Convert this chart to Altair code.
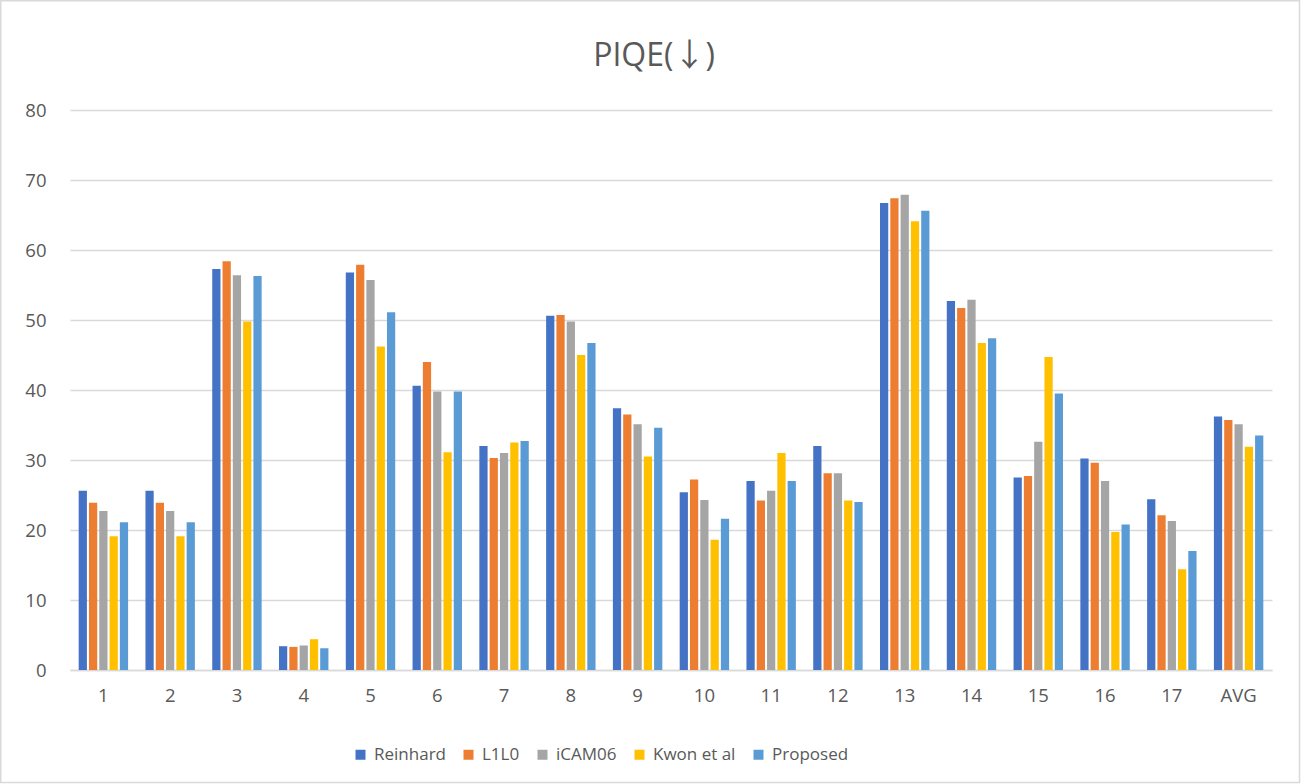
import altair as alt
import pandas as pd

# Image categories and the five tone-mapping methods compared
categories = [str(i) for i in range(1, 18)] + ["AVG"]
methods = ["Reinhard", "L1L0", "iCAM06", "Kwon et al", "Proposed"]
colors = ["#4472C4", "#ED7D31", "#A5A5A5", "#FFC000", "#5B9BD5"]

# PIQE scores per method (lower is better)
reinhard = [25.6, 25.6, 57.3, 3.4, 56.8, 40.6, 32.0, 50.6, 37.4, 25.4, 27.0, 32.0, 66.7, 52.7, 27.5, 30.2, 24.4, 36.2]
l1l0 = [23.9, 23.9, 58.4, 3.3, 57.9, 44.0, 30.3, 50.7, 36.5, 27.2, 24.2, 28.1, 67.4, 51.7, 27.7, 29.6, 22.1, 35.7]
icam06 = [22.7, 22.7, 56.4, 3.5, 55.7, 39.8, 31.0, 49.8, 35.1, 24.3, 25.6, 28.1, 67.9, 52.9, 32.6, 27.0, 21.3, 35.1]
kwon = [19.1, 19.1, 49.8, 4.4, 46.2, 31.1, 32.5, 45.0, 30.5, 18.6, 31.0, 24.2, 64.1, 46.7, 44.7, 19.7, 14.4, 31.9]
proposed = [21.1, 21.1, 56.3, 3.1, 51.1, 39.8, 32.7, 46.7, 34.6, 21.6, 27.0, 24.0, 65.6, 47.4, 39.5, 20.8, 17.0, 33.5]

title_text = "PIQE(↓)"

series = [reinhard, l1l0, icam06, kwon, proposed]
rows = []
for m, vals in zip(methods, series):
    for c, v in zip(categories, vals):
        rows.append({"category": c, "method": m, "value": v})
df = pd.DataFrame(rows)

FONT = "Open Sans"
TITLE_FONT = "'Open Sans', 'Noto Sans CJK SC'"
TXT = "#595959"
GRID = "#D9D9D9"

W, H = 1202, 560
LEFT, TOP = 70, 110

bars = alt.Chart(df).mark_bar().encode(
    x=alt.X(
        "category:N",
        sort=categories,
        scale=alt.Scale(paddingInner=0.26, paddingOuter=0.13),
        axis=alt.Axis(
            title=None, labelAngle=0, ticks=False, domain=True,
            domainColor=GRID, domainWidth=1.5, labelPadding=16,
            labelFontSize=18.5, labelColor=TXT, labelFont=FONT,
        ),
    ),
    xOffset=alt.XOffset("method:N", sort=methods, scale=alt.Scale(paddingInner=0.2)),
    y=alt.Y(
        "value:Q",
        scale=alt.Scale(domain=[0, 80]),
        axis=alt.Axis(
            title=None, values=list(range(0, 81, 10)), domain=False, ticks=False,
            gridColor=GRID, gridWidth=1.5, labelPadding=24,
            labelFontSize=18.5, labelColor=TXT, labelFont=FONT,
        ),
    ),
    color=alt.Color(
        "method:N",
        sort=methods,
        scale=alt.Scale(domain=methods, range=colors),
        legend=alt.Legend(
            title=None, orient="none", direction="horizontal",
            legendX=282, legendY=636,
            symbolType="square", symbolSize=100, symbolStrokeWidth=0,
            labelFontSize=17, labelColor=TXT, labelFont=FONT,
            labelOffset=5, columnPadding=14,
        ),
    ),
)

# Chart heading, centred over the figure
heading = alt.Chart(pd.DataFrame({"t": [title_text]})).mark_text(
    fontSize=32, font=TITLE_FONT, color=TXT, align="center", baseline="middle",
).encode(text="t:N", x=alt.value(654 - LEFT), y=alt.value(56 - TOP))

# Light outer frame around the whole figure
frame = alt.Chart(pd.DataFrame({"t": [0]})).mark_rect(
    fill=None, stroke=GRID, strokeWidth=1.5
).encode(
    x=alt.value(-LEFT + 0.75), x2=alt.value(1301 - LEFT - 1.5),
    y=alt.value(-TOP + 0.75), y2=alt.value(784 - TOP - 1.5),
)

chart = alt.layer(frame, bars, heading).properties(
    width=W,
    height=H,
    background="white",
    autosize=alt.AutoSizeParams(type="none"),
    padding={"left": LEFT, "top": TOP, "right": 1301 - LEFT - W, "bottom": 784 - TOP - H},
).configure_view(stroke=None)

chart.save("out.html", embed_options={"renderer": "svg", "actions": False})
